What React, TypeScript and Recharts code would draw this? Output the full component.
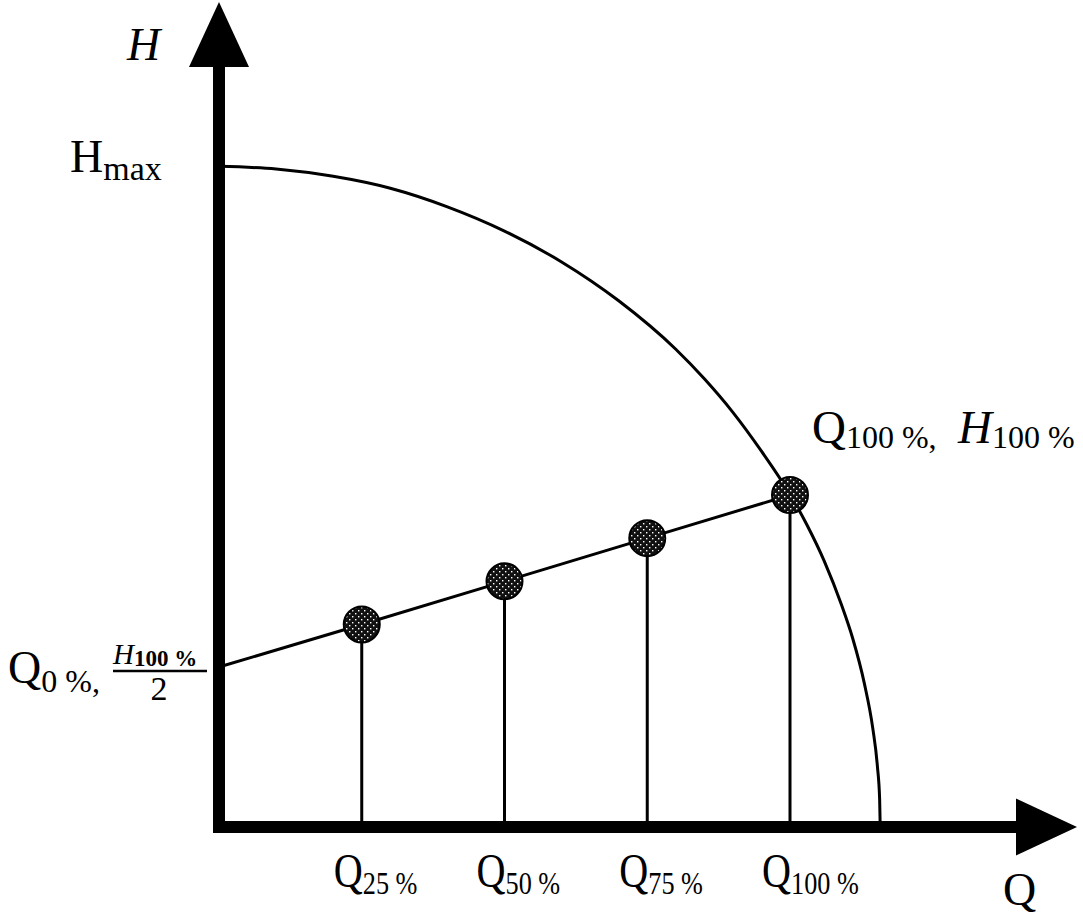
import React from 'react';
import { ComposedChart, Line, XAxis, YAxis, ReferenceLine, Scatter } from 'recharts';

// Pump curve H(Q) (Q in % of Q100, H in % of H100)
const pumpQ = [0, 10, 20, 30, 40, 50, 60, 70, 80, 85, 90, 95, 100, 103, 106, 109, 111, 113, 114.5, 115.3, 115.7, 115.8];
const pumpH = [199, 198.2, 196.0, 192.4, 186.8, 179.5, 170.2, 158.5, 143.9, 135.0, 124.9, 113.2, 100.2, 90.9, 80.1, 67.0, 56.7, 43.4, 29.7, 18.4, 8.3, 0];

// Operating (control) line from Q0%, H100%/2 to Q100%, H100%
const opQ = [0, 25, 50, 75, 100];
const opH = [48.2, 61, 74, 87, 100];

// Tick labels on the Q axis
const tickQ = [25, 50, 75, 100];
const tickSub = ['25 %', '50 %', '75 %', '100 %'];

// Axis extents
const X_MAX = 150;
const Y_MAX = 248.5;

const pumpData = pumpQ.map((q, i) => ({ q, h: pumpH[i] }));
const opData = opQ.map((q, i) => ({ q, h: opH[i] }));

const FONT = '"Liberation Serif", "Times New Roman", serif';

const QTick = (props: any) => {
  const { x, y, payload } = props;
  const idx = tickQ.indexOf(payload.value);
  const sub = tickSub[idx] ?? '';
  return (
    <g transform={`translate(${x - 28}, ${y + 52}) scale(0.82, 1)`}>
      <text x={0} y={0} fontFamily={FONT} fontSize={49} fill="#000">
        Q<tspan fontSize={32} dy={7}>{sub}</tspan>
      </text>
    </g>
  );
};

const UpArrow = (props: any) => {
  const { cx, cy } = props;
  return <polygon points={`${cx},${cy} ${cx - 30},${cy + 65} ${cx + 30},${cy + 65}`} fill="#000" />;
};

const RightArrow = (props: any) => {
  const { cx, cy } = props;
  const tip = cx + 1.5;
  return <polygon points={`${tip},${cy} ${tip - 61},${cy - 28.5} ${tip - 61},${cy + 28.5}`} fill="#000" />;
};

const OpDot = (p: any) => {
  if (!p.payload || p.payload.q <= 0) return <g key={`d${p.index}`} />;
  return (
    <circle key={`d${p.index}`} cx={p.cx} cy={p.cy} r={18} fill="url(#speckle)" stroke="#000" strokeWidth={2} />
  );
};

export default function App() {
  return (
    <div style={{ width: 1083, height: 924, background: '#fff' }}>
      <style>{'body{margin:0;background:#fff}'}</style>
      <ComposedChart
        width={1083}
        height={924}
        margin={{ top: 2, right: 7.5, left: 219, bottom: 0 }}
      >
        <defs>
          <pattern id="speckle" width="6" height="6" patternUnits="userSpaceOnUse">
            <rect width="6" height="6" fill="#111" />
            <rect x="1" y="1" width="1.4" height="1.4" fill="#fff" />
            <rect x="4" y="4" width="1.4" height="1.4" fill="#fff" />
          </pattern>
        </defs>
        <XAxis
          type="number"
          dataKey="q"
          domain={[0, X_MAX]}
          ticks={tickQ}
          interval={0}
          axisLine={false}
          tickLine={false}
          height={97}
          tick={<QTick />}
        />
        <YAxis type="number" dataKey="h" domain={[0, Y_MAX]} hide />

        {/* Thick axes */}
        <ReferenceLine
          segment={[{ x: -1.05, y: 0 }, { x: 140, y: 0 }]}
          stroke="#000"
          strokeWidth={12}
          ifOverflow="visible"
        />
        <ReferenceLine
          segment={[{ x: 0, y: -1.8 }, { x: 0, y: 236 }]}
          stroke="#000"
          strokeWidth={12}
          ifOverflow="visible"
        />

        {/* Vertical stems */}
        {opData.slice(1).map((d) => (
          <ReferenceLine
            key={`s${d.q}`}
            segment={[{ x: d.q, y: 0 }, { x: d.q, y: d.h }]}
            stroke="#000"
            strokeWidth={3}
            ifOverflow="visible"
          />
        ))}

        <Line
          data={pumpData}
          dataKey="h"
          type="monotone"
          stroke="#000"
          strokeWidth={3}
          dot={false}
          activeDot={false}
          isAnimationActive={false}
        />
        <Line
          data={opData}
          dataKey="h"
          type="linear"
          stroke="#000"
          strokeWidth={3}
          dot={OpDot}
          activeDot={false}
          isAnimationActive={false}
        />

        <Scatter data={[{ q: 0, h: Y_MAX }]} dataKey="h" shape={<UpArrow />} isAnimationActive={false} />
        <Scatter data={[{ q: X_MAX, h: 0 }]} dataKey="h" shape={<RightArrow />} isAnimationActive={false} />

        {/* Annotations */}
        <text x={127} y={60} fontFamily={FONT} fontSize={46} fontStyle="italic" fill="#000">H</text>
        <text x={70} y={172} fontFamily={FONT} fontSize={46} fill="#000">
          H<tspan fontSize={34} dy={8}>max</tspan>
        </text>
        <text x={8} y={683} fontFamily={FONT} fontSize={46} fill="#000">
          Q<tspan fontSize={32} dy={9}>0 %,</tspan>
        </text>
        <text x={113} y={664} fontFamily={FONT} fontSize={29} fontStyle="italic" fill="#000">
          H<tspan fontSize={23} fontStyle="normal" fontWeight="bold" dy={2}>100 %</tspan>
        </text>
        <line x1={113} x2={207} y1={671} y2={671} stroke="#000" strokeWidth={2.5} />
        <text x={159} y={700} textAnchor="middle" fontFamily={FONT} fontSize={34} fill="#000">2</text>
        <text x={812} y={443} fontFamily={FONT} fontSize={47} fill="#000">
          Q<tspan fontSize={32} dy={5}>100 %,</tspan>
        </text>
        <text x={958} y={443} fontFamily={FONT} fontSize={47} fontStyle="italic" fill="#000">
          H<tspan fontSize={32} fontStyle="normal" dy={5}>100 %</tspan>
        </text>
        <text x={1003} y={905} fontFamily={FONT} fontSize={46} fill="#000">Q</text>
      </ComposedChart>
    </div>
  );
}
